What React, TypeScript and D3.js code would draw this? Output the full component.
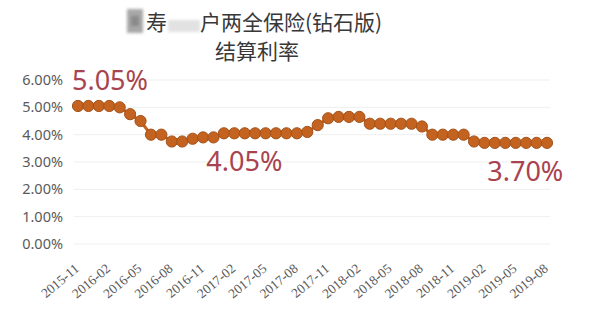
import React from "react";
import * as d3 from "d3";

const months = [
  "2015-11","2015-12","2016-01","2016-02","2016-03","2016-04","2016-05","2016-06","2016-07","2016-08",
  "2016-09","2016-10","2016-11","2016-12","2017-01","2017-02","2017-03","2017-04","2017-05","2017-06",
  "2017-07","2017-08","2017-09","2017-10","2017-11","2017-12","2018-01","2018-02","2018-03","2018-04",
  "2018-05","2018-06","2018-07","2018-08","2018-09","2018-10","2018-11","2018-12","2019-01","2019-02",
  "2019-03","2019-04","2019-05","2019-06","2019-07","2019-08",
];
const rates = [
  5.05, 5.05, 5.05, 5.05, 5.0, 4.75, 4.5, 4.0, 4.0, 3.75,
  3.75, 3.85, 3.9, 3.9, 4.05, 4.05, 4.05, 4.05, 4.05, 4.05,
  4.05, 4.05, 4.1, 4.35, 4.6, 4.65, 4.65, 4.65, 4.4, 4.4,
  4.4, 4.4, 4.4, 4.3, 4.0, 4.0, 4.0, 4.0, 3.75, 3.7,
  3.7, 3.7, 3.7, 3.7, 3.7, 3.7,
];
const yTicks = [0, 1, 2, 3, 4, 5, 6];
const shownLabels = [
  "2015-11","2016-02","2016-05","2016-08","2016-11","2017-02","2017-05","2017-08",
  "2017-11","2018-02","2018-05","2018-08","2018-11","2019-02","2019-05","2019-08",
];
const annotations = [
  { text: "5.05%", month: "2015-11", dx: -6, dy: -16 },
  { text: "4.05%", month: "2017-02", dx: -28, dy: 38 },
  { text: "3.70%", month: "2019-04", dx: -18, dy: 38 },
];

export default function App() {
  const W = 592, H = 316;
  const x = d3.scalePoint<string>().domain(months).range([78, 547]);
  const y = d3.scaleLinear().domain([0, 6]).range([244, 80]);
  const line = d3.line<number>()
    .x((_, i) => x(months[i]) as number)
    .y((d) => y(d));
  const rateOf = (m: string) => rates[months.indexOf(m)];

  return (
    <svg width={W} height={H} style={{ position: "absolute", left: 0, top: 0, background: "#fff" }}>
      <defs>
        <filter id="blur1" x="-30%" y="-30%" width="160%" height="160%">
          <feGaussianBlur stdDeviation="1.5" />
        </filter>
      </defs>
      {/* title */}
      <g fontFamily="'Noto Sans CJK SC', 'Noto Sans', sans-serif" fontSize={21} fill="#383838">
        <rect x={127} y={9} width={16} height={24} fill="#a8a8a8" filter="url(#blur1)" />
        <rect x={131} y={16} width={8} height={10} fill="#8a8a8a" filter="url(#blur1)" />
        <text x={146} y={30}>寿</text>
        <rect x={168} y={20} width={32} height={12} fill="#e2e2e2" filter="url(#blur1)" />
        <text x={200} y={30}>户两全保险(钻石版)</text>
        <text x={257} y={59} textAnchor="middle">结算利率</text>
      </g>
      {/* grid */}
      {yTicks.map((t) => (
        <line key={t} x1={74} x2={550} y1={y(t)} y2={y(t)} stroke="#efefef" strokeWidth={1} />
      ))}
      {/* y labels */}
      <g fontFamily="'Noto Sans', sans-serif" fontSize={14.5} fill="#5a5a5a">
        {yTicks.map((t) => (
          <text key={t} x={63} y={y(t) + 5} textAnchor="end">{t.toFixed(2) + "%"}</text>
        ))}
      </g>
      {/* x labels */}
      <g fontFamily="'Liberation Serif', 'DejaVu Serif', serif" fontSize={13.5} fill="#5a5a5a">
        {shownLabels.map((m) => {
          const px = (x(m) as number) + 2;
          const py = 270;
          return (
            <text key={m} x={px} y={py} textAnchor="end" transform={`rotate(-40 ${px} ${py})`}>{m}</text>
          );
        })}
      </g>
      {/* line + markers */}
      <path d={line(rates) || ""} fill="none" stroke="#c4621f" strokeWidth={3} />
      {rates.map((v, i) => (
        <circle key={i} cx={x(months[i]) as number} cy={y(v)} r={5.6} fill="#c4621f" stroke="#a3521b" strokeWidth={1} />
      ))}
      {/* annotations */}
      <g fontFamily="'Noto Sans', sans-serif" fontSize={27} fill="#a8434f">
        {annotations.map((a) => (
          <text key={a.text} x={(x(a.month) as number) + a.dx} y={y(rateOf(a.month)) + a.dy}>{a.text}</text>
        ))}
      </g>
    </svg>
  );
}
